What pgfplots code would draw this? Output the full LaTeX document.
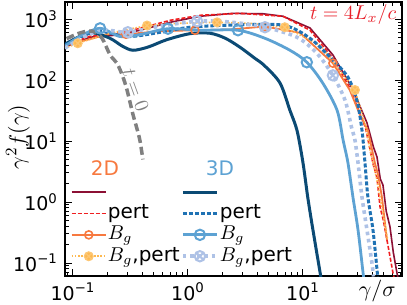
\documentclass[border=0pt]{standalone}
\usepackage[no-math]{fontspec}
\setmainfont{DejaVu Sans}
\usepackage{pgfplots}
\pgfplotsset{compat=1.18}
\usetikzlibrary{calc,plotmarks}
\definecolor{c2d}{HTML}{8C1034}
\definecolor{pertred}{HTML}{F01E20}
\definecolor{c2dbg}{HTML}{F7793F}
\definecolor{c2dbgp}{HTML}{FDB951}
\definecolor{c3d}{HTML}{0B4A74}
\definecolor{c3dp}{HTML}{1F72B4}
\definecolor{c3dbg}{HTML}{5DA2D3}
\definecolor{c3dbgp}{HTML}{AEC2E6}
\definecolor{cgray}{HTML}{808080}
\definecolor{annred}{HTML}{E8202A}
\pgfplotsset{
  s2d/.style={c2d, line width=0.8pt, no markers},
  s2dp/.style={draw=pertred, line width=0.8pt, dash pattern=on 2pt off 1pt, no markers},
  s2dbg/.style={c2dbg, line width=0.9pt, mark=o, mark size=2pt, mark options={solid, line width=0.8pt}},
  s2dbgp/.style={c2dbgp, line width=0.8pt, dash pattern=on 0.8pt off 0.8pt, mark=otimes*, mark size=2.2pt, mark options={solid, line width=0.6pt, draw=c2dbgp!80, fill=c2dbgp}},
  s3d/.style={c3d, line width=1.5pt, no markers},
  s3dp/.style={c3dp, line width=1.5pt, dash pattern=on 2pt off 1pt, no markers},
  s3dbg/.style={c3dbg, line width=1.4pt, mark=o, mark size=2.6pt, mark options={solid, line width=1pt}},
  s3dbgp/.style={c3dbgp, line width=1.8pt, dash pattern=on 1.8pt off 1.8pt, mark=otimes, mark size=2.6pt, mark options={solid, line width=1pt}},
}
\begin{document}
\begin{tikzpicture}
\begin{axis}[name=ax,
  xmode=log, ymode=log,
  scale only axis, width=168.5pt, height=137pt,
  xmin=0.0852, xmax=72.6, ymin=0.0612, ymax=1920,
  xtick={0.1,1,10}, xticklabels={10\textsuperscript{−1},10\textsuperscript{0},10\textsuperscript{1}},
  ytick={0.1,1,10,100,1000}, yticklabels={10\textsuperscript{−1},10\textsuperscript{0},10\textsuperscript{1},10\textsuperscript{2},10\textsuperscript{3}},
  minor xtick={0.09,0.2,0.3,0.4,0.5,0.6,0.7,0.8,0.9,2,3,4,5,6,7,8,9,20,30,40,50,60,70},
  minor ytick={0.07,0.08,0.09,0.2,0.3,0.4,0.5,0.6,0.7,0.8,0.9,2,3,4,5,6,7,8,9,20,30,40,50,60,70,80,90,200,300,400,500,600,700,800,900},
  tick align=inside, major tick length=3.5pt, minor tick length=2pt,
  every tick/.style={black, line width=0.5pt},
  axis line style={line width=0.6pt},
  tick label style={font=\fontsize{9.5}{11}\selectfont},
  xlabel={$\gamma/\sigma$},
  every axis x label/.style={at={(rel axis cs:1,0)}, anchor=north east, xshift=-2pt, yshift=-1pt, inner sep=1pt, font=\fontsize{11}{13}\selectfont},
  ylabel={$\gamma^2 f(\gamma)$},
  every axis y label/.style={at={(rel axis cs:0,0.507)}, xshift=-23.5pt, rotate=90, anchor=center, font=\fontsize{11}{13}\selectfont},
  legend columns=2,
  legend cell align=left,
  legend style={at={(rel axis cs:0.016,0.425)}, anchor=north west, draw=none, fill=none, inner sep=0pt,
    font=\fontsize{10}{12}\selectfont,
    /tikz/every even column/.append style={column sep=0pt},
    nodes={inner sep=0.6pt, text height=7.2pt, text depth=2.3pt}},
]
\addlegendimage{empty legend}\addlegendentry{\hspace*{-8.5pt}\textcolor{c2dbg}{2D}}
\addlegendimage{empty legend}\addlegendentry{\hspace*{-7pt}\textcolor{c3dbg}{3D}}
\addlegendimage{s2d}\addlegendentry{}
\addlegendimage{s3d}\addlegendentry{}
\addlegendimage{legend image code/.code={\draw[pertred, line width=0.8pt, dash pattern=on 2pt off 1pt] (0cm,0cm) -- (0.6cm,0cm);}}\addlegendentry{pert}
\addlegendimage{s3dp}\addlegendentry{pert}
\addlegendimage{s2dbg}\addlegendentry{$B_g$}
\addlegendimage{s3dbg}\addlegendentry{$B_g$}
\addlegendimage{s2dbgp}\addlegendentry{$B_g$,pert}
\addlegendimage{s3dbgp}\addlegendentry{$B_g$,pert}

% 2D
\addplot[s2d, forget plot] coordinates {
(0.085,350) (0.14,507) (0.241,550) (0.383,660) (0.697,890) (1.27,1120) (2.46,1250) (4.5,1230) (6.7,1120) (11.5,720) (18.2,260) (27.2,70) (36,20) (41,8) (44,5.5) (47,2.4) (49.6,1.9) (53,0.7) (57,0.4) (61,0.15) (65.6,0.069) (68,0.05)};
\addplot[s2dp, forget plot] coordinates {
(0.085,375) (0.14,525) (0.241,590) (0.383,710) (0.697,960) (1.27,1160) (2.83,1250) (6.7,1120) (11.5,660) (18.2,230) (25.5,75) (35,16.5) (40.6,4.3) (44,2.5) (46.8,0.83) (50,0.5) (53.7,0.24) (60.6,0.069) (63,0.05)};
\addplot[s2dbg, forget plot, no markers] coordinates {
(0.085,375) (0.127,450) (0.21,580) (0.289,568) (0.571,636) (1.15,660) (2.32,680) (4.67,760) (9.4,600) (18.2,190) (25.5,69) (31.3,27) (36.7,15) (42.3,4.3) (45,2.8) (48.6,1.2) (53.7,0.24)};
\addplot[s2dbg, forget plot, only marks] coordinates {
(0.289,568) (1.15,660) (4.67,760) (18.2,190)};
\addplot[s2dbgp, forget plot, no markers] coordinates {
(0.085,335) (0.11,404) (0.21,590) (0.44,790) (0.85,860) (1.79,890) (3.46,860) (6.95,740) (14.1,375) (28.3,69) (35,18) (38.3,7.1) (44,2.3) (49.6,0.65) (54.5,0.24)};
\addplot[s2dbgp, forget plot, only marks] coordinates {
(0.11,404) (0.44,790) (1.79,890) (6.95,740) (28.3,69)};

% 3D
\addplot[s3d, smooth, forget plot] coordinates {
(0.085,390) (0.115,525) (0.149,600) (0.21,487) (0.27,360) (0.333,310) (0.45,350) (0.65,460) (1.04,580) (1.55,590) (2.1,490) (2.83,348) (3.8,230) (4.6,175) (6.31,90) (7.7,32) (8.87,15) (10,4.4) (11,1.2) (12.2,0.35) (14.1,0.069) (14.8,0.04)};
\addplot[s3dp, smooth, forget plot] coordinates {
(0.085,375) (0.127,550) (0.172,640) (0.3,520) (0.571,610) (1.04,740) (2.32,800) (6.7,800) (11.5,487) (18.2,214) (24.6,112) (29.4,47) (32.6,15) (34.6,4.4) (36.7,1.2) (40.6,0.35) (44,0.079) (45,0.05)};
\addplot[s3dbg, smooth, forget plot, no markers] coordinates {
(0.085,360) (0.115,525) (0.172,710) (0.257,520) (0.383,560) (0.67,700) (1.27,660) (2.72,660) (4.67,487) (7.7,310) (10.8,197) (14.9,89) (19.8,32) (22.3,10.5) (24.6,4.4) (27.2,1.2) (30.1,0.35) (33.3,0.069) (34,0.05)};
\addplot[s3dbg, forget plot, only marks] coordinates {
(0.172,710) (0.67,700) (2.72,660) (10.8,197)};
\addplot[s3dbgp, smooth, forget plot, no markers] coordinates {
(0.085,335) (0.127,525) (0.19,660) (0.30,612) (0.571,768) (1.2,930) (2.32,900) (4.67,740) (8.87,507) (13.2,276) (18.2,120) (23.2,47) (26.4,17) (28.3,10.4) (30.1,4.4) (32.6,1.2) (36,0.35) (39.8,0.1) (41,0.06)};
\addplot[s3dbgp, forget plot, only marks] coordinates {
(0.30,612) (1.2,930) (4.67,740) (18.2,120)};

% t = 0
\addplot[cgray, line width=1.75pt, dash pattern=on 4pt off 2pt, smooth, forget plot] coordinates {
(0.088,480) (0.11,580) (0.135,640) (0.155,620) (0.18,480) (0.21,260) (0.241,190) (0.27,117) (0.295,69) (0.333,27) (0.36,16) (0.383,10) (0.405,5)};

\node[text=annred, font=\fontsize{10}{12}\selectfont] at (rel axis cs:0.855,0.953) {$t=4L_x/c$};
\node[text=cgray, rotate=-70, font=\fontsize{10}{12}\selectfont] at (rel axis cs:0.21,0.679) {$t=0$};
\end{axis}
\pgfresetboundingbox
\path ($(ax.south west)+(-32.5pt,-14.5pt)$) rectangle ($(ax.north east)+(2.5pt,1pt)$);
\end{tikzpicture}
\end{document}
